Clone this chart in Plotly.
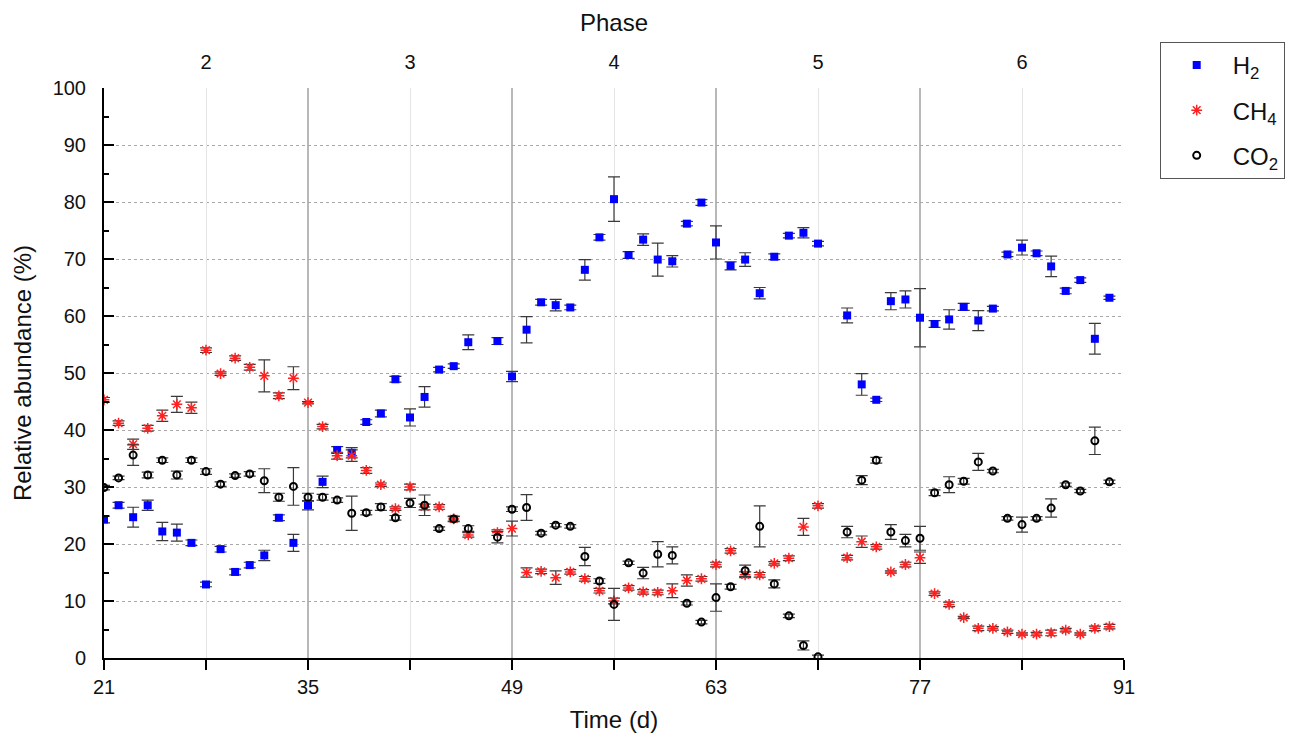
import plotly.graph_objects as go

days = [21, 22, 23, 24, 25, 26, 27, 28, 29, 30, 31, 32, 33, 34, 35, 36, 37, 38, 39, 40,
        41, 42, 43, 44, 45, 46, 48, 49, 50, 51, 52, 53, 54, 55, 56, 57, 58, 59, 60, 61,
        62, 63, 64, 65, 66, 67, 68, 69, 70, 72, 73, 74, 75, 76, 77, 78, 79, 80, 81, 82,
        83, 84, 85, 86, 87, 88, 89, 90]

h2 = [24.3, 26.8, 24.7, 26.8, 22.2, 22.0, 20.2, 12.9, 19.1, 15.1, 16.3, 18.0, 24.6, 20.2, 26.8, 30.9, 36.5, 36.0, 41.4, 42.9,
      48.9, 42.2, 45.8, 50.6, 51.2, 55.4, 55.6, 49.4, 57.6, 62.4, 61.9, 61.5, 68.1, 73.8, 80.5, 70.7, 73.4, 69.9, 69.6, 76.2,
      79.9, 72.9, 68.8, 69.9, 64.0, 70.4, 74.1, 74.6, 72.7, 60.1, 48.0, 45.3, 62.6, 62.9, 59.7, 58.6, 59.4, 61.6, 59.2, 61.3,
      70.8, 72.0, 71.0, 68.7, 64.4, 66.3, 56.0, 63.2]
h2_err = [0.6, 0.5, 1.75, 0.9, 1.6, 1.5, 0.5, 0.4, 0.5, 0.5, 0.5, 0.9, 0.5, 1.5, 0.8, 1.0, 0.6, 0.9, 0.4, 0.6,
          0.5, 1.5, 1.8, 0.4, 0.4, 1.3, 0.6, 0.9, 2.3, 0.5, 1.0, 0.4, 1.8, 0.5, 3.9, 0.6, 1.0, 2.9, 1.0, 0.4,
          0.5, 2.9, 0.7, 1.2, 1.0, 0.5, 0.4, 0.9, 0.4, 1.3, 1.9, 0.3, 1.5, 1.5, 5.1, 0.6, 1.7, 0.6, 1.75, 0.4,
          0.4, 1.3, 0.4, 1.8, 0.5, 0.4, 2.7, 0.3]

ch4 = [45.3, 41.2, 37.5, 40.3, 42.5, 44.5, 43.9, 54.0, 49.9, 52.6, 51.0, 49.5, 46.0, 49.1, 44.8, 40.6, 35.5, 35.5, 32.9, 30.4,
       26.2, 30.0, 26.5, 26.5, 24.4, 21.6, 22.0, 22.7, 15.0, 15.2, 14.1, 15.1, 13.9, 11.8, 10.0, 12.3, 11.6, 11.5, 11.8, 13.6,
       13.9, 16.4, 18.8, 14.6, 14.6, 16.6, 17.5, 23.0, 26.7, 17.6, 20.4, 19.5, 15.1, 16.4, 17.6, 11.3, 9.4, 7.1, 5.2, 5.2,
       4.6, 4.2, 4.2, 4.4, 4.9, 4.2, 5.2, 5.5]
ch4_err = [0.4, 0.4, 0.9, 0.5, 1.0, 1.4, 1.0, 0.4, 0.3, 0.4, 0.5, 2.8, 0.5, 2.0, 0.2, 0.4, 0.6, 1.0, 0.5, 0.3,
           0.3, 0.5, 0.5, 0.4, 0.5, 0.4, 0.5, 1.3, 0.8, 0.4, 1.2, 0.4, 0.4, 0.4, 0.5, 0.4, 0.4, 0.4, 1.2, 1.0,
           0.4, 0.4, 0.4, 0.5, 0.4, 0.3, 0.4, 1.5, 0.4, 0.4, 1.0, 0.4, 0.2, 0.4, 1.0, 0.3, 0.4, 0.2, 0.4, 0.3,
           0.3, 0.2, 0.3, 0.5, 0.3, 0.2, 0.4, 0.4]

co2 = [29.9, 31.6, 35.6, 32.1, 34.7, 32.1, 34.7, 32.7, 30.5, 32.0, 32.3, 31.1, 28.2, 30.1, 28.2, 28.2, 27.7, 25.4, 25.5, 26.5,
       24.6, 27.2, 26.8, 22.7, 24.4, 22.7, 21.2, 26.1, 26.4, 21.9, 23.3, 23.1, 17.8, 13.5, 9.4, 16.7, 14.9, 18.2, 18.0, 9.6,
       6.3, 10.6, 12.5, 15.3, 23.1, 13.0, 7.4, 2.2, 0.2, 22.1, 31.2, 34.7, 22.1, 20.6, 21.0, 29.0, 30.4, 31.0, 34.4, 32.8,
       24.5, 23.4, 24.5, 26.3, 30.4, 29.3, 38.1, 30.9]
co2_err = [0.4, 0.3, 1.8, 0.5, 0.4, 0.7, 0.4, 0.5, 0.4, 0.3, 0.4, 2.1, 0.7, 3.3, 0.7, 0.5, 0.4, 3.0, 0.4, 0.6,
           0.4, 0.8, 1.8, 0.3, 0.4, 0.5, 1.0, 0.4, 2.25, 0.3, 0.3, 0.3, 1.6, 0.4, 2.8, 0.3, 1.0, 2.2, 1.5, 0.3,
           0.3, 2.4, 0.4, 1.0, 3.6, 0.7, 0.3, 0.8, 0.3, 1.0, 0.8, 0.5, 1.3, 1.1, 2.1, 0.5, 1.4, 0.5, 1.5, 0.3,
           0.3, 1.3, 0.3, 1.6, 0.3, 0.3, 2.4, 0.3]

phase_pos = [28, 42, 56, 70, 84]
phase_labels = ["2", "3", "4", "5", "6"]
phase_bounds = [35, 49, 63, 77]

FONT = "Liberation Sans, Arial, sans-serif"
err_style = dict(type="data", color="#3a3a3a", thickness=1.2, width=6)

fig = go.Figure()
fig.add_trace(go.Scatter(
    x=days, y=h2, mode="markers", name="H<sub>2</sub>", legendgroup="a",
    marker=dict(symbol="square", size=8, color="#0000ff"),
    error_y=dict(array=h2_err, **err_style)))
fig.add_trace(go.Scatter(
    x=days, y=ch4, mode="markers", name="CH<sub>4</sub>", legendgroup="b",
    marker=dict(symbol="asterisk-open", size=9, color="#ff2020",
                line=dict(color="#ff2020", width=1.5)),
    error_y=dict(array=ch4_err, **err_style)))
fig.add_trace(go.Scatter(
    x=days, y=co2, mode="markers", name="CO<sub>2</sub>", legendgroup="c",
    marker=dict(symbol="circle-open", size=7, color="black",
                line=dict(color="black", width=2)),
    error_y=dict(array=co2_err, **err_style)))
# invisible trace anchoring the top (phase) axis
fig.add_trace(go.Scatter(x=[days[0]], y=[None], xaxis="x2", mode="markers",
                         showlegend=False, hoverinfo="skip", marker=dict(opacity=0)))

for b in phase_bounds:
    fig.add_shape(type="line", x0=b, x1=b, y0=0, y1=1, xref="x", yref="y domain",
                  line=dict(color="#b8b8b8", width=2), layer="below")

fig.update_layout(
    width=1301, height=750,
    margin=dict(l=104, r=177, t=88, b=92),
    paper_bgcolor="white", plot_bgcolor="white",
    font=dict(family=FONT, size=20, color="#111"),
    showlegend=True,
    legend=dict(x=1.035, y=1.081, xanchor="left", yanchor="top",
                bordercolor="#555", borderwidth=1, bgcolor="white",
                font=dict(size=24, family=FONT), traceorder="grouped",
                tracegroupgap=11, itemwidth=62),
    xaxis=dict(range=[21, 91], tick0=21, dtick=14, showline=True, linecolor="black",
               linewidth=2, ticks="outside", ticklen=10, tickwidth=2, tickcolor="black",
               showgrid=False, zeroline=False,
               minor=dict(dtick=7, tick0=21, ticks="outside", ticklen=10,
                          tickwidth=2, tickcolor="black", showgrid=False),
               title=dict(text="Time (d)", font=dict(size=24), standoff=14)),
    xaxis2=dict(range=[21, 91], overlaying="x", side="top", tickmode="array",
                tickvals=phase_pos, ticktext=phase_labels, showline=False,
                ticks="", showgrid=True, gridcolor="#e4e4e4", gridwidth=1,
                zeroline=False, ticklabelstandoff=14,
                title=dict(text="Phase", font=dict(size=24), standoff=12)),
    yaxis=dict(range=[0, 100], dtick=10, showline=True, linecolor="black", linewidth=2,
               ticks="inside", ticklen=10, tickwidth=2, tickcolor="black",
               showgrid=True, gridcolor="#a8a8a8", griddash="dot", gridwidth=1,
               zeroline=False, ticklabelstandoff=12,
               minor=dict(dtick=5, ticks="inside", ticklen=5, tickwidth=2,
                          tickcolor="black", showgrid=False),
               title=dict(text="Relative abundance (%)", font=dict(size=24), standoff=14)),
)

fig.write_html("out.html")
